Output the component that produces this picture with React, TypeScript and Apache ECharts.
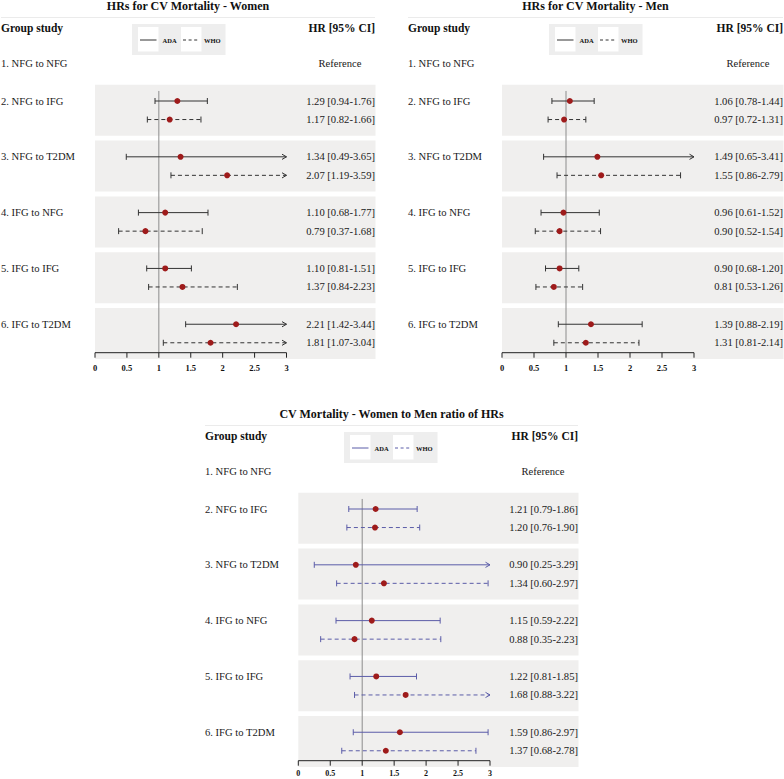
import React, { useEffect, useRef } from "react";
import * as echarts from "echarts";

// ---------- data ----------
const groupLabels = [
  "1. NFG to NFG",
  "2. NFG to IFG",
  "3. NFG to T2DM",
  "4. IFG to NFG",
  "5. IFG to IFG",
  "6. IFG to T2DM",
];
const referenceText = "Reference";
const studyNames = ["ADA", "WHO"];
const xTicks = [0, 0.5, 1, 1.5, 2, 2.5, 3];
const refValue = 1;

const womenAdaHR = [1.29, 1.34, 1.1, 1.1, 2.21];
const womenAdaLo = [0.94, 0.49, 0.68, 0.81, 1.42];
const womenAdaHi = [1.76, 3.65, 1.77, 1.51, 3.44];
const womenWhoHR = [1.17, 2.07, 0.79, 1.37, 1.81];
const womenWhoLo = [0.82, 1.19, 0.37, 0.84, 1.07];
const womenWhoHi = [1.66, 3.59, 1.68, 2.23, 3.04];

const menAdaHR = [1.06, 1.49, 0.96, 0.9, 1.39];
const menAdaLo = [0.78, 0.65, 0.61, 0.68, 0.88];
const menAdaHi = [1.44, 3.41, 1.52, 1.2, 2.19];
const menWhoHR = [0.97, 1.55, 0.9, 0.81, 1.31];
const menWhoLo = [0.72, 0.86, 0.52, 0.53, 0.81];
const menWhoHi = [1.31, 2.79, 1.54, 1.26, 2.14];

const ratioAdaHR = [1.21, 0.9, 1.15, 1.22, 1.59];
const ratioAdaLo = [0.79, 0.25, 0.59, 0.81, 0.86];
const ratioAdaHi = [1.86, 3.29, 2.22, 1.85, 2.97];
const ratioWhoHR = [1.2, 1.34, 0.88, 1.68, 1.37];
const ratioWhoLo = [0.76, 0.6, 0.35, 0.88, 0.68];
const ratioWhoHi = [1.9, 2.97, 2.23, 3.22, 2.78];

// ---------- layout / style ----------
const FAMILY = "Liberation Serif, Times New Roman, serif";
const font = (size: number, bold = false) => `${bold ? "bold " : ""}${size}px ${FAMILY}`;
const Y_MIN = 0.54;
const Y_MAX = 5.344;
const GRID_TOP = 84.6;
const GRID_H = 268.1;
const ROW_OFF = 0.166;
const BAND_HALF = 0.457;
const REF_ROW_Y = 0.17;
const REF_LINE_TOP = 0.654;
const BAND_COLOR = "#f0efee";
const POINT_COLOR = "#9e1b1b";
const TEXT_COLOR = "#1a1a1a";
const AXIS_COLOR = "#222222";

const panels = [
  {
    title: "HRs for CV Mortality - Women",
    ada: [womenAdaHR, womenAdaLo, womenAdaHi],
    who: [womenWhoHR, womenWhoLo, womenWhoHi],
    color: "#333333",
    labelX: 1,
    left: 95,
    width: 191.5,
    textRight: 375,
    dy: 0,
    legendX: 132,
    tickMargin: 11,
    tickSize: 8.5,
  },
  {
    title: "HRs for CV Mortality - Men",
    ada: [menAdaHR, menAdaLo, menAdaHi],
    who: [menWhoHR, menWhoLo, menWhoHi],
    color: "#333333",
    labelX: 408,
    left: 502,
    width: 192,
    textRight: 783,
    dy: 0,
    legendX: 549,
    tickMargin: 11,
    tickSize: 8.5,
  },
  {
    title: "CV Mortality - Women to Men ratio of HRs",
    ada: [ratioAdaHR, ratioAdaLo, ratioAdaHi],
    who: [ratioWhoHR, ratioWhoLo, ratioWhoHi],
    color: "#5b5ca8",
    labelX: 205,
    left: 298.3,
    width: 191.7,
    textRight: 578,
    dy: 408,
    legendX: 344,
    tickMargin: 8.5,
    tickSize: 8,
  },
];

function fmt(v: number) {
  return v.toFixed(2);
}

function buildOption() {
  const grid: any[] = [];
  const xAxis: any[] = [];
  const yAxis: any[] = [];
  const series: any[] = [];
  const graphic: any[] = [];
  const xMin = xTicks[0];
  const xMax = xTicks[xTicks.length - 1];
  const xInt = xTicks[1] - xTicks[0];

  panels.forEach((p, k) => {
    grid.push({
      left: p.left,
      top: GRID_TOP + p.dy,
      width: p.width,
      height: GRID_H,
      containLabel: false,
      outerBoundsMode: "none",
    });
    xAxis.push({
      type: "value",
      gridIndex: k,
      position: "bottom",
      min: xMin,
      max: xMax,
      interval: xInt,
      z: 20,
      splitLine: { show: false },
      axisLine: { show: false },
      axisTick: { show: false },
      axisLabel: {
        fontSize: p.tickSize,
        fontWeight: "bold",
        fontFamily: FAMILY,
        color: "#111",
        margin: p.tickMargin,
      },
    });
    yAxis.push({
      type: "value",
      gridIndex: k,
      min: Y_MIN,
      max: Y_MAX,
      inverse: true,
      show: false,
    });

    // bands
    series.push({
      type: "custom",
      xAxisIndex: k,
      yAxisIndex: k,
      z: 1,
      silent: true,
      data: groupLabels.slice(1).map((_, i) => [i + 1]),
      renderItem: (params: any, api: any) => {
        const y = api.value(0);
        const a = api.coord([xMin, y - BAND_HALF]);
        const b = api.coord([xMin, y + BAND_HALF]);
        return {
          type: "rect",
          shape: { x: a[0], y: a[1], width: p.textRight + 0.5 - a[0], height: b[1] - a[1] },
          style: { fill: BAND_COLOR },
        };
      },
    });

    // x axis line and ticks (drawn at the axis values)
    series.push({
      type: "custom",
      xAxisIndex: k,
      yAxisIndex: k,
      z: 10,
      silent: true,
      data: xTicks.map((v) => [v]),
      renderItem: (params: any, api: any) => {
        const t = api.coord([api.value(0), Y_MAX]);
        const children: any[] = [
          {
            type: "line",
            shape: { x1: t[0], y1: t[1], x2: t[0], y2: t[1] + 5 },
            style: { stroke: AXIS_COLOR, lineWidth: 1 },
          },
        ];
        if (params.dataIndex === 0) {
          const e = api.coord([xMax, Y_MAX]);
          children.push({
            type: "line",
            shape: { x1: t[0], y1: t[1], x2: e[0], y2: e[1] },
            style: { stroke: AXIS_COLOR, lineWidth: 1 },
          });
        }
        return { type: "group", children };
      },
    });

    // reference line
    series.push({
      type: "custom",
      xAxisIndex: k,
      yAxisIndex: k,
      z: 2,
      silent: true,
      data: [[refValue]],
      renderItem: (params: any, api: any) => {
        const a = api.coord([api.value(0), REF_LINE_TOP]);
        const b = api.coord([api.value(0), Y_MAX]);
        return {
          type: "line",
          shape: { x1: a[0], y1: a[1], x2: b[0], y2: b[1] },
          style: { stroke: "#8c8c8c", lineWidth: 1 },
        };
      },
    });

    // row labels
    series.push({
      type: "custom",
      xAxisIndex: k,
      yAxisIndex: k,
      z: 3,
      silent: true,
      data: groupLabels.map((_, i) => [i]),
      renderItem: (params: any, api: any) => {
        const i = api.value(0);
        const y = i === 0 ? REF_ROW_Y : i - ROW_OFF;
        const pt = api.coord([xMin, y]);
        const children: any[] = [
          {
            type: "text",
            x: p.labelX,
            y: pt[1],
            style: {
              text: groupLabels[params.dataIndex],
              fill: TEXT_COLOR,
              font: font(10.6),
              align: "left",
              verticalAlign: "middle",
            },
          },
        ];
        if (i === 0) {
          children.push({
            type: "text",
            x: p.textRight - 35,
            y: pt[1],
            style: {
              text: referenceText,
              fill: TEXT_COLOR,
              font: font(10.6),
              align: "center",
              verticalAlign: "middle",
            },
          });
        }
        return { type: "group", children };
      },
    });

    // error bars
    [p.ada, p.who].forEach((arr, s) => {
      const [hr, lo, hi] = arr;
      const off = s === 0 ? -ROW_OFF : ROW_OFF;
      const dashed = s === 1;
      series.push({
        type: "custom",
        name: studyNames[s],
        xAxisIndex: k,
        yAxisIndex: k,
        z: 4,
        silent: true,
        data: hr.map((v, i) => [v, lo[i], hi[i], i + 1 + off]),
        renderItem: (params: any, api: any) => {
          const h = api.value(0);
          const l = api.value(1);
          const u = api.value(2);
          const y = api.value(3);
          const uc = Math.min(u, xMax);
          const a = api.coord([l, y]);
          const b = api.coord([uc, y]);
          const st = { stroke: p.color, lineWidth: 1 };
          const children: any[] = [
            {
              type: "line",
              shape: { x1: a[0], y1: a[1], x2: b[0], y2: b[1] },
              style: { ...st, lineDash: dashed ? [4, 3] : null },
            },
            {
              type: "line",
              shape: { x1: a[0], y1: a[1] - 3, x2: a[0], y2: a[1] + 3 },
              style: st,
            },
          ];
          if (u > xMax) {
            children.push({
              type: "polyline",
              shape: {
                points: [
                  [b[0] - 4.5, b[1] - 2.6],
                  [b[0], b[1]],
                  [b[0] - 4.5, b[1] + 2.6],
                ],
              },
              style: { ...st, fill: null },
            });
          } else {
            children.push({
              type: "line",
              shape: { x1: b[0], y1: b[1] - 3, x2: b[0], y2: b[1] + 3 },
              style: st,
            });
          }
          children.push({
            type: "text",
            x: p.textRight,
            y: a[1],
            style: {
              text: `${fmt(h)} [${fmt(l)}-${fmt(u)}]`,
              fill: TEXT_COLOR,
              font: font(10.6),
              align: "right",
              verticalAlign: "middle",
            },
          });
          return { type: "group", children };
        },
      });
      series.push({
        type: "scatter",
        xAxisIndex: k,
        yAxisIndex: k,
        z: 5,
        silent: true,
        symbol: "circle",
        symbolSize: 6,
        itemStyle: { color: POINT_COLOR, opacity: 1 },
        data: hr.map((v, i) => [v, i + 1 + off]),
      });
    });

    // titles, headers, legend
    const cx = (p.labelX + p.textRight) / 2;
    graphic.push(
      {
        type: "text",
        x: cx,
        y: 6 + p.dy,
        style: {
          text: p.title,
          fill: "#111",
          font: font(12, true),
          align: "center",
          verticalAlign: "middle",
        },
      },
      {
        type: "line",
        shape: { x1: p.labelX, y1: 17.5 + p.dy, x2: p.textRight, y2: 17.5 + p.dy },
        style: { stroke: "#ebebeb", lineWidth: 1 },
      },
      {
        type: "text",
        x: p.labelX,
        y: 27.5 + p.dy,
        style: {
          text: "Group study",
          fill: "#111",
          font: font(11.5, true),
          align: "left",
          verticalAlign: "middle",
        },
      },
      {
        type: "text",
        x: p.textRight,
        y: 27.5 + p.dy,
        style: {
          text: "HR [95% CI]",
          fill: "#111",
          font: font(11.5, true),
          align: "right",
          verticalAlign: "middle",
        },
      }
    );
    const L = p.legendX;
    const T = 24 + p.dy;
    graphic.push({
      type: "group",
      children: [
        { type: "rect", shape: { x: L, y: T, width: 93.5, height: 31 }, style: { fill: "#eeeeee" } },
        { type: "rect", shape: { x: L + 6, y: T + 3, width: 20.5, height: 24.5 }, style: { fill: "#ffffff" } },
        { type: "rect", shape: { x: L + 49, y: T + 3, width: 20.5, height: 24.5 }, style: { fill: "#ffffff" } },
        {
          type: "line",
          shape: { x1: L + 8, y1: T + 16, x2: L + 24.5, y2: T + 16 },
          style: { stroke: p.color, lineWidth: 1 },
        },
        {
          type: "line",
          shape: { x1: L + 51, y1: T + 16, x2: L + 67.5, y2: T + 16 },
          style: { stroke: p.color, lineWidth: 1, lineDash: [3, 2.6] },
        },
        {
          type: "text",
          x: L + 30.5,
          y: T + 16.5,
          style: {
            text: studyNames[0],
            fill: "#111",
            font: font(6.5, true),
            align: "left",
            verticalAlign: "middle",
          },
        },
        {
          type: "text",
          x: L + 72,
          y: T + 16.5,
          style: {
            text: studyNames[1],
            fill: "#111",
            font: font(6.5, true),
            align: "left",
            verticalAlign: "middle",
          },
        },
      ],
    });
  });

  return {
    animation: false,
    backgroundColor: "#ffffff",
    textStyle: { fontFamily: FAMILY },
    grid,
    xAxis,
    yAxis,
    series,
    graphic,
  };
}

export default function App() {
  const ref = useRef<HTMLDivElement>(null);
  useEffect(() => {
    document.body.style.margin = "0";
    const chart = echarts.init(ref.current as HTMLDivElement, undefined, { renderer: "svg" });
    chart.setOption(buildOption() as any);
    return () => {
      chart.dispose();
    };
  }, []);
  return (
    <div
      ref={ref}
      style={{ position: "absolute", left: 0, top: 0, width: 784, height: 779 }}
    />
  );
}
